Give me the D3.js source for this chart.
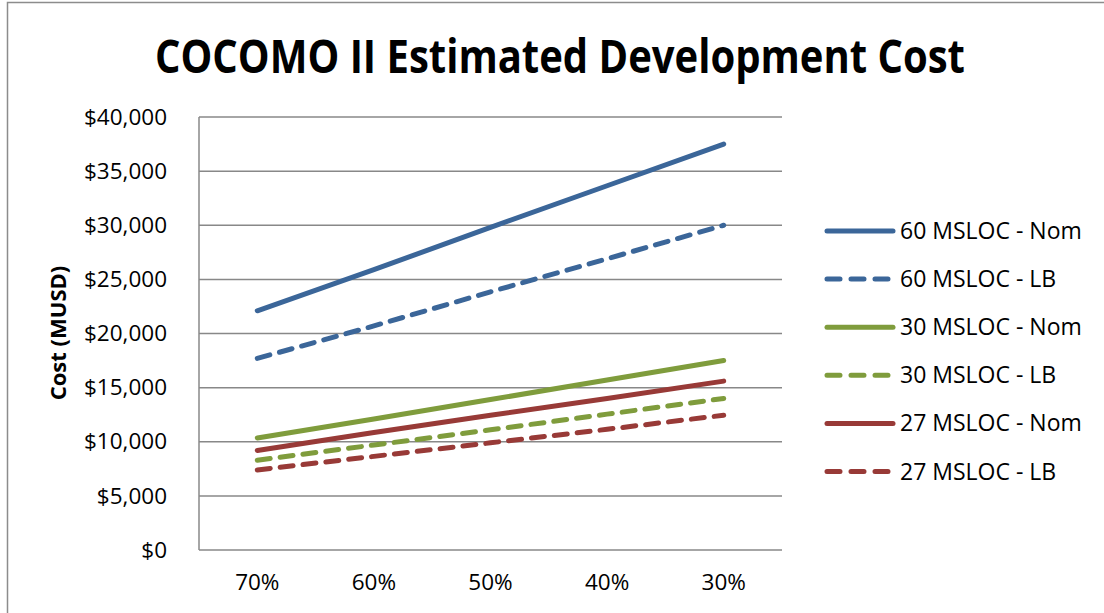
<!DOCTYPE html>
<html>
<head>
<meta charset="utf-8">
<script src="https://cdn.jsdelivr.net/npm/d3@7"></script>
<style>
  html, body { margin: 0; padding: 0; background: #fff; }
  svg { display: block; }
  text { font-family: "Open Sans", "DejaVu Sans", sans-serif; fill: #000; }
</style>
</head>
<body>
<svg id="chart" width="1104" height="613"></svg>
<script>
// Categories: share of reused code
const categories = ["70%", "60%", "50%", "40%", "30%"];

// Estimated development cost (MUSD) per scenario
const nom60 = [22100, 25900, 29800, 33650, 37500];
const lb60  = [17700, 20700, 23850, 26900, 30000];
const nom30 = [10350, 12100, 13900, 15700, 17500];
const lb30  = [8300, 9700, 11100, 12550, 14000];
const nom27 = [9200, 10850, 12450, 14000, 15600];
const lb27  = [7400, 8650, 9900, 11150, 12450];

const seriesNames = ["60 MSLOC - Nom", "60 MSLOC - LB", "30 MSLOC - Nom", "30 MSLOC - LB", "27 MSLOC - Nom", "27 MSLOC - LB"];
const yTicks = [0, 5000, 10000, 15000, 20000, 25000, 30000, 35000, 40000];

const series = [
  { name: seriesNames[0], values: nom60, color: "#3B6699", dashed: false },
  { name: seriesNames[1], values: lb60,  color: "#3B6699", dashed: true },
  { name: seriesNames[2], values: nom30, color: "#7F9C3C", dashed: false },
  { name: seriesNames[3], values: lb30,  color: "#7F9C3C", dashed: true },
  { name: seriesNames[4], values: nom27, color: "#983A37", dashed: false },
  { name: seriesNames[5], values: lb27,  color: "#983A37", dashed: true }
];

const svg = d3.select("#chart");

// Outer chart frame
svg.append("rect")
  .attr("x", 7.5).attr("y", 2.5)
  .attr("width", 1104).attr("height", 620)
  .attr("fill", "none").attr("stroke", "#8c8c8c").attr("stroke-width", 1.5);

// Plot area
const plot = { left: 199, right: 782, top: 117, bottom: 550 };

const x = d3.scaleBand().domain(categories).range([plot.left, plot.right]);
const y = d3.scaleLinear().domain([0, 40000]).range([plot.bottom, plot.top]);

// Gridlines
svg.append("g")
  .selectAll("line")
  .data(yTicks)
  .join("line")
  .attr("x1", plot.left).attr("x2", plot.right)
  .attr("y1", d => y(d)).attr("y2", d => y(d))
  .attr("stroke", "#888").attr("stroke-width", 1.5);

// Vertical axis line
svg.append("line")
  .attr("x1", plot.left).attr("x2", plot.left)
  .attr("y1", plot.top).attr("y2", plot.bottom)
  .attr("stroke", "#888").attr("stroke-width", 1.5);

// Y axis labels
const yAxis = d3.axisLeft(y)
  .tickValues(yTicks)
  .tickSize(0)
  .tickPadding(0)
  .tickFormat(d => "$" + d3.format(",")(d));
const yg = svg.append("g").attr("transform", `translate(${plot.left - 32},0)`).call(yAxis);
yg.select(".domain").remove();
yg.selectAll("text")
  .style("font-family", "'Open Sans', sans-serif")
  .style("font-size", "22.5px")
  .attr("fill", "#000");

// X axis labels
const xAxis = d3.axisBottom(x).tickSize(0).tickPadding(0);
const xg = svg.append("g").attr("transform", `translate(0,${plot.bottom + 24})`).call(xAxis);
xg.select(".domain").remove();
xg.selectAll("text")
  .style("font-family", "'Open Sans', sans-serif")
  .style("font-size", "22.5px")
  .attr("fill", "#000");

// Lines
const line = d3.line()
  .x((d, i) => x(categories[i]) + x.bandwidth() / 2)
  .y(d => y(d));

svg.append("g")
  .selectAll("path")
  .data(series)
  .join("path")
  .attr("d", d => line(d.values))
  .attr("fill", "none")
  .attr("stroke", d => d.color)
  .attr("stroke-width", 5)
  .attr("stroke-linecap", "round")
  .attr("stroke-linejoin", "round")
  .attr("stroke-dasharray", d => d.dashed ? "13,10" : null);

// Legend
const legend = svg.append("g").attr("transform", "translate(825,231)");
const rows = legend.selectAll("g")
  .data(series)
  .join("g")
  .attr("transform", (d, i) => `translate(0,${i * 48.1})`);
rows.append("line")
  .attr("x1", 2).attr("x2", 68)
  .attr("y1", 0).attr("y2", 0)
  .attr("stroke", d => d.color)
  .attr("stroke-width", 5)
  .attr("stroke-linecap", "round")
  .attr("stroke-dasharray", d => d.dashed ? "13,11" : null);
rows.append("text")
  .attr("x", 75).attr("y", 0)
  .attr("dy", "0.35em")
  .style("font-size", "23px")
  .text(d => d.name);

// Y axis title
svg.append("text")
  .attr("transform", "translate(58,333) rotate(-90)")
  .attr("text-anchor", "middle")
  .attr("dy", "0.35em")
  .style("font-size", "22px")
  .style("font-weight", "bold")
  .text("Cost (MUSD)");

// Chart title
svg.append("text")
  .attr("x", 560).attr("y", 73)
  .attr("text-anchor", "middle")
  .attr("textLength", 810)
  .attr("lengthAdjust", "spacingAndGlyphs")
  .style("font-size", "46px")
  .style("font-weight", "bold")
  .text("COCOMO II Estimated Development Cost");
</script>
</body>
</html>
